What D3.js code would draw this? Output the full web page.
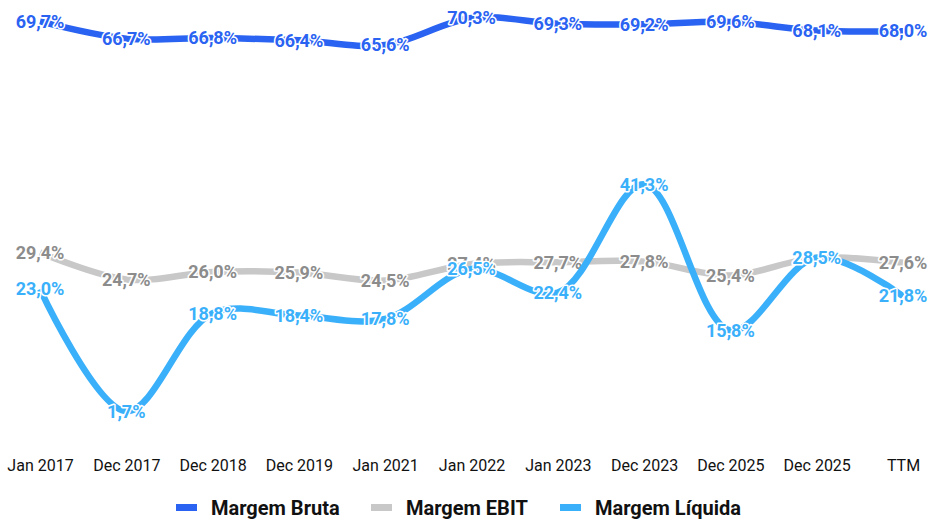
<!DOCTYPE html>
<html>
<head>
<meta charset="utf-8">
<script src="https://cdn.jsdelivr.net/npm/d3@7"></script>
<style>
  body { margin: 0; background: #fff; }
  svg { font-family: Roboto, "Noto Sans", sans-serif; }
</style>
</head>
<body>
<figure id="chart" style="margin:0"></figure>
<script>
const periods = ["Jan 2017", "Dec 2017", "Dec 2018", "Dec 2019", "Jan 2021", "Jan 2022",
  "Jan 2023", "Dec 2023", "Dec 2025", "Dec 2025", "TTM"];
const margemBruta = [69.7, 66.7, 66.8, 66.4, 65.6, 70.3, 69.3, 69.2, 69.6, 68.1, 68.0];
const margemEbit = [29.4, 24.7, 26.0, 25.9, 24.5, 27.4, 27.7, 27.8, 25.4, 28.5, 27.6];
const margemLiquida = [23.0, 1.7, 18.8, 18.4, 17.8, 26.5, 22.4, 41.3, 15.8, 28.5, 21.8];
const seriesNames = ["Margem Bruta", "Margem EBIT", "Margem Líquida"];

const width = 929, height = 519;
const lineColors = ["#2a63f2", "#c8c8c8", "#3bb0fa"];
const labelColors = ["#2a63f2", "#8c8c8c", "#3bb0fa"];

const series = [margemBruta, margemEbit, margemLiquida].map((vals, i) => ({
  name: seriesNames[i],
  values: vals.map((v, j) => ({ i: j, v: v }))
}));

const svg = d3.select("#chart").append("svg")
  .attr("width", width)
  .attr("height", height);

// index based so the duplicated "Dec 2025" stays two slots
const x = d3.scalePoint()
  .domain(d3.range(periods.length))
  .range([40, 903]);

const y = d3.scaleLinear()
  .domain([0, d3.max(margemBruta)])
  .range([421, 18]);

const line = d3.line()
  .x(d => x(d.i))
  .y(d => y(d.v))
  .curve(d3.curveCatmullRom.alpha(0.5));

const fmt = v => d3.format(".1f")(v).replace(".", ",") + "%";

series.forEach((s, k) => {
  svg.append("path")
    .datum(s.values)
    .attr("fill", "none")
    .attr("stroke", lineColors[k])
    .attr("stroke-width", 6.5)
    .attr("d", line);

  svg.append("g")
    .selectAll("text")
    .data(s.values)
    .enter()
    .append("text")
    .attr("x", d => x(d.i))
    .attr("y", d => y(d.v))
    .attr("dy", "0.35em")
    .attr("text-anchor", "middle")
    .style("font-size", "18px")
    .style("font-weight", "bold")
    .style("paint-order", "stroke")
    .attr("stroke", "#fff")
    .attr("stroke-width", 3)
    .attr("stroke-linejoin", "round")
    .attr("fill", labelColors[k])
    .text(d => fmt(d.v));
});

// x axis, labels only
const xAxis = svg.append("g")
  .attr("transform", "translate(0,458)")
  .call(d3.axisBottom(x).tickSize(0).tickFormat(i => periods[i]));
xAxis.select(".domain").remove();
xAxis.selectAll("text")
  .attr("dy", "0.71em")
  .attr("y", 2)
  .style("font-family", "Roboto, sans-serif")
  .style("font-size", "16px")
  .attr("fill", "#111");

// legend
const legendX = [176, 371, 560];
const legend = svg.append("g");
seriesNames.forEach((name, k) => {
  legend.append("rect")
    .attr("x", legendX[k])
    .attr("y", 504)
    .attr("width", 21)
    .attr("height", 7)
    .attr("fill", lineColors[k]);
  legend.append("text")
    .attr("x", legendX[k] + 35)
    .attr("y", 508)
    .attr("dy", "0.35em")
    .style("font-size", "20px")
    .style("font-weight", "bold")
    .attr("fill", "#111")
    .text(name);
});
</script>
</body>
</html>
